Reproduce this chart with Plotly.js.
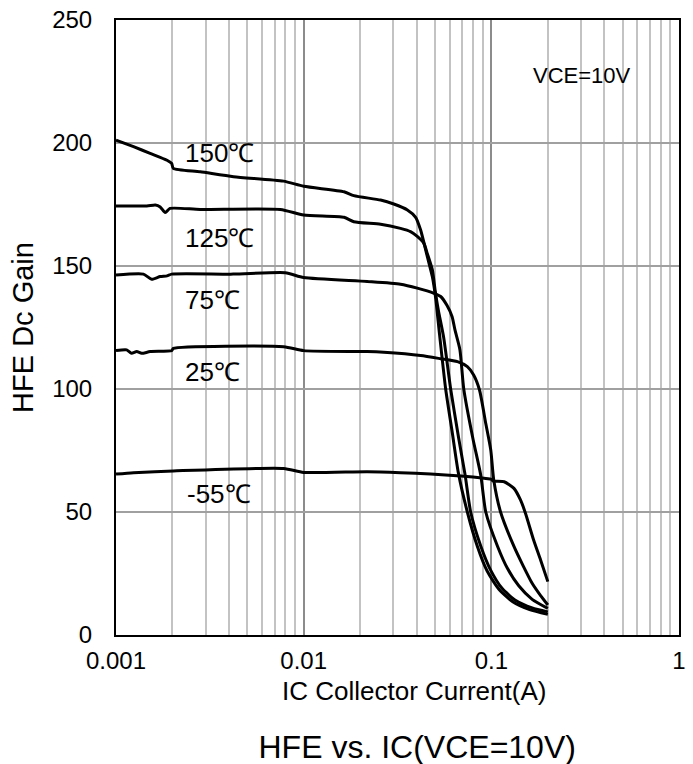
<!DOCTYPE html>
<html>
<head>
<meta charset="utf-8">
<script src="https://cdn.plot.ly/plotly-3.0.1.min.js"></script>
<style>html,body{margin:0;padding:0;background:#fff;}#chart{width:693px;height:764px;}</style>
</head>
<body>
<div id="chart"></div>
<script>
// ---- data ----
const ic150 = [0.001,0.00124,0.00152,0.00187,0.00198,0.00202,0.00281,0.00423,0.0078,0.01,0.0164,0.0185,0.0257,0.0302,0.0357,0.0395,0.042,0.0456,0.0485,0.0505,0.053,0.0571,0.062,0.0667,0.0745,0.0843,0.095,0.11,0.13,0.16,0.2];
const hfe150 = [201.2,198.5,195.8,193,191.7,189.7,188.3,186.3,184.5,182.4,180.2,178.6,176.8,175.2,172.8,169.8,164.6,153.8,145.6,137,122,100,82,66,50,36,26,18.5,13.5,10.3,8.4];

const ic125 = [0.001,0.00146,0.00162,0.00172,0.00183,0.00194,0.00281,0.0075,0.01,0.0164,0.0185,0.0257,0.0328,0.0371,0.0403,0.0437,0.0456,0.0485,0.0502,0.0522,0.0557,0.0607,0.067,0.0725,0.0776,0.088,0.099,0.114,0.135,0.165,0.2];
const hfe125 = [174.4,174.4,174.8,174,171.7,173.4,173,173,170.7,169.8,168,167,165.3,164,162,159.2,155,148.4,140,132,121,100,80,65,50,36,26.5,19,14,11,9.4];

const ic75 = [0.001,0.0014,0.00155,0.00172,0.00187,0.00198,0.00421,0.00798,0.01,0.0218,0.0328,0.0403,0.0495,0.0537,0.058,0.0618,0.064,0.068,0.0713,0.0797,0.0878,0.0934,0.108,0.122,0.14,0.165,0.2];
const hfe75 = [146.3,146.7,144.6,145.7,146,146.7,146.7,147.3,145.3,143.7,142.6,141,138.9,137.6,134,129.4,124,116,100,80,65,50,36,27,20,14.5,10.8];

const ic25 = [0.001,0.00114,0.00121,0.00129,0.00137,0.00152,0.00198,0.00202,0.00782,0.01,0.0218,0.0267,0.042,0.0537,0.066,0.0745,0.0805,0.0865,0.0934,0.0993,0.103,0.112,0.132,0.148,0.165,0.183,0.2];
const hfe25 = [115.6,115.9,114.5,115.2,114.5,115.2,115.6,116.5,117.2,115.6,115.2,114.9,113.6,112.3,111.1,109.1,105.7,99.6,86,75.2,63,50,36,28,21,16,12.2];

const icm55 = [0.001,0.00124,0.00202,0.00782,0.01,0.0218,0.0328,0.0475,0.0688,0.0914,0.1,0.102,0.117,0.132,0.143,0.152,0.168,0.183,0.2];
const hfem55 = [65.4,66,66.7,67.7,66.1,66.4,66,65.4,64.6,63.7,63.3,62.6,62.3,59.6,54.9,49.5,38.6,30.5,21.7];

const curveLabels = ['150℃','125℃','75℃','25℃','-55℃'];
const labelIC = [0.00228,0.00228,0.00228,0.00228,0.00232];
const labelHFE = [196,161.5,136,107,57.5];

const xTickVals = [0.001,0.01,0.1,1];
const xTickText = ['0.001','0.01','0.1','1'];
const yTickVals = [0,50,100,150,200,250];

// ---- build ----
const FONT = 'Liberation Sans, Arial, Helvetica, sans-serif';
const series = [[ic150,hfe150],[ic125,hfe125],[ic75,hfe75],[ic25,hfe25],[icm55,hfem55]];
const traces = series.map(s => ({
  x: s[0], y: s[1], type: 'scatter', mode: 'lines',
  line: {color: '#000', width: 3, shape: 'spline', smoothing: 0.6},
  showlegend: false, hoverinfo: 'skip'
}));

const minorVals = [];
[0.001,0.01,0.1].forEach(d => { for (let k = 2; k <= 9; k++) minorVals.push(+(d*k).toPrecision(3)); });

const annotations = curveLabels.map((t,i) => ({
  x: Math.log10(labelIC[i]), y: labelHFE[i], xref: 'x', yref: 'y',
  text: t, showarrow: false, xanchor: 'left', yanchor: 'middle',
  font: {family: FONT, size: 26, color: '#000'}
}));
annotations.push({
  x: Math.log10(0.162), y: 227.5, xref: 'x', yref: 'y', text: 'VCE=10V',
  showarrow: false, xanchor: 'left', yanchor: 'middle',
  font: {family: FONT, size: 22, color: '#000'}
});
// x-axis title
annotations.push({
  x: 0.529, y: -(691 - 635) / 615, xref: 'paper', yref: 'paper',
  text: 'IC Collector Current(A)', showarrow: false,
  xanchor: 'center', yanchor: 'middle',
  font: {family: FONT, size: 26, color: '#000'}
});

const layout = {
  width: 693, height: 764,
  margin: {l: 116, r: 14, t: 20, b: 129},
  paper_bgcolor: '#fff', plot_bgcolor: '#fff',
  font: {family: FONT, color: '#000'},
  title: {text: 'HFE vs. IC(VCE=10V)', font: {family: FONT, size: 32, color: '#000'},
          xref: 'paper', x: 0.535, xanchor: 'center', yref: 'container', y: 1 - 747/764, yanchor: 'middle'},
  xaxis: {
    type: 'log', range: [-3, 0],
    tickmode: 'array', tickvals: xTickVals, ticktext: xTickText,
    ticks: '', showgrid: true, gridcolor: '#8c8c8c', gridwidth: 2,
    minor: {tickmode: 'array', tickvals: minorVals, showgrid: true, gridcolor: '#c3c3c3', gridwidth: 2, ticks: ''},
    showline: true, linecolor: '#000', linewidth: 2, mirror: true,
    zeroline: false,
    tickfont: {family: FONT, size: 24, color: '#000'},
    ticklabelstandoff: 3
  },
  yaxis: {
    range: [0, 250], tickmode: 'array', tickvals: yTickVals,
    ticks: '', showgrid: true, gridcolor: '#a0a0a0', gridwidth: 2,
    showline: true, linecolor: '#000', linewidth: 2, mirror: true,
    zeroline: false,
    tickfont: {family: FONT, size: 24, color: '#000'},
    ticklabelstandoff: 17,
    title: {text: 'HFE Dc Gain', font: {family: FONT, size: 29, color: '#000'}, standoff: 10}
  },
  annotations: annotations
};

Plotly.newPlot('chart', traces, layout, {displayModeBar: false, staticPlot: true});
</script>
</body>
</html>
